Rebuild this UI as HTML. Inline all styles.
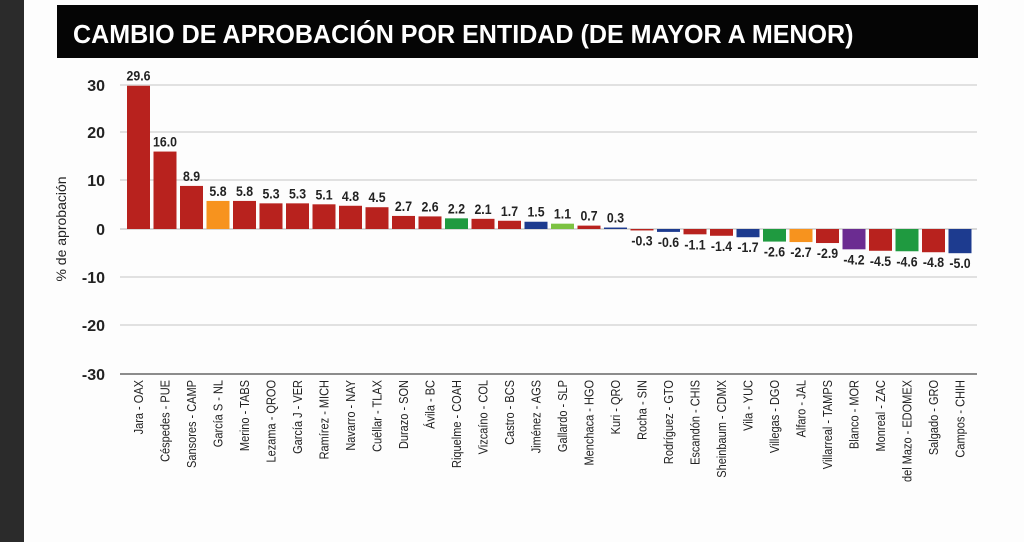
<!DOCTYPE html>
<html><head><meta charset="utf-8"><style>
html,body{margin:0;padding:0;background:#fff;}
svg{display:block}
text{font-family:"Liberation Sans",sans-serif;}
</style></head><body>
<svg width="1024" height="542" viewBox="0 0 1024 542" xmlns="http://www.w3.org/2000/svg">
<rect width="1024" height="542" fill="#fdfdfd"/>
<rect x="0" y="0" width="24" height="542" fill="#2b2b2b"/>
<rect x="57" y="5" width="921" height="53" fill="#050505"/>
<text x="73" y="43" font-size="26" font-weight="bold" fill="#fff" transform="translate(73 0) scale(0.965 1) translate(-73 0)">CAMBIO DE APROBACIÓN POR ENTIDAD (DE MAYOR A MENOR)</text>
<g stroke="#d8d8d8" stroke-width="1.5">
<line x1="120" y1="85" x2="977" y2="85"/><line x1="120" y1="132" x2="977" y2="132"/><line x1="120" y1="180" x2="977" y2="180"/>
<line x1="120" y1="277" x2="977" y2="277"/><line x1="120" y1="325" x2="977" y2="325"/>
</g>
<line x1="120" y1="229" x2="977" y2="229" stroke="#ccc" stroke-width="1.5"/>
<line x1="120" y1="374" x2="977" y2="374" stroke="#666" stroke-width="1.5"/>
<g font-size="16" font-weight="bold" fill="#222" text-anchor="end">
<text x="105" y="91">30</text><text x="105" y="138">20</text><text x="105" y="186">10</text><text x="105" y="235">0</text>
<text x="105" y="283">-10</text><text x="105" y="331">-20</text><text x="105" y="380">-30</text>
</g>
<text transform="translate(66 229) rotate(-90)" font-size="14" fill="#222" text-anchor="middle">% de aprobación</text>
<g id="bars"></g>
<g id="vals"></g>
<g id="labs"></g>
<script>
var d=[["Jara - OAX",29.6,"r"],["Céspedes - PUE",16.0,"r"],["Sansores - CAMP",8.9,"r"],["García S - NL",5.8,"o"],["Merino - TABS",5.8,"r"],["Lezama - QROO",5.3,"r"],["García J - VER",5.3,"r"],["Ramírez - MICH",5.1,"r"],["Navarro - NAY",4.8,"r"],["Cuéllar - TLAX",4.5,"r"],["Durazo - SON",2.7,"r"],["Ávila - BC",2.6,"r"],["Riquelme - COAH",2.2,"g"],["Vizcaíno - COL",2.1,"r"],["Castro - BCS",1.7,"r"],["Jiménez - AGS",1.5,"b"],["Gallardo - SLP",1.1,"l"],["Menchaca - HGO",0.7,"r"],["Kuri - QRO",0.3,"b"],["Rocha - SIN",-0.3,"r"],["Rodríguez - GTO",-0.6,"b"],["Escandón - CHIS",-1.1,"r"],["Sheinbaum - CDMX",-1.4,"r"],["Vila - YUC",-1.7,"b"],["Villegas - DGO",-2.6,"g"],["Alfaro - JAL",-2.7,"o"],["Villarreal - TAMPS",-2.9,"r"],["Blanco - MOR",-4.2,"p"],["Monreal - ZAC",-4.5,"r"],["del Mazo - EDOMEX",-4.6,"g"],["Salgado - GRO",-4.8,"r"],["Campos - CHIH",-5.0,"b"]];
var c={r:"#b8221e",o:"#f7931e",g:"#1f9a40",b:"#1d3b8f",l:"#7cc242",p:"#6b2c91"};
var ns="http://www.w3.org/2000/svg",z=229,k=4.84,s=26.5,x0=127;
function el(t,a,p,tx){var e=document.createElementNS(ns,t);for(var q in a)e.setAttribute(q,a[q]);if(tx)e.textContent=tx;document.getElementById(p).appendChild(e);}
d.forEach(function(v,i){var x=x0+i*s,h=Math.abs(v[1])*k,y=v[1]>=0?z-h:z;
el("rect",{x:x,y:y,width:23,height:Math.max(h,1),fill:c[v[2]]},"bars");
var ty=v[1]>=0?z-h-5:z+h+15;
el("text",{x:x+11.5,y:ty,"font-size":"14","font-weight":"bold",fill:"#222","text-anchor":"middle",transform:"translate("+(x+11.5)+" 0) scale(0.88 1) translate("+(-(x+11.5))+" 0)"},"vals",v[1].toFixed(1));
el("text",{transform:"translate("+(x+16)+" 380) rotate(-90) scale(0.88 1)","font-size":"12.5",fill:"#222","text-anchor":"end"},"labs",v[0]);
});
</script>
</svg>
</body></html>
